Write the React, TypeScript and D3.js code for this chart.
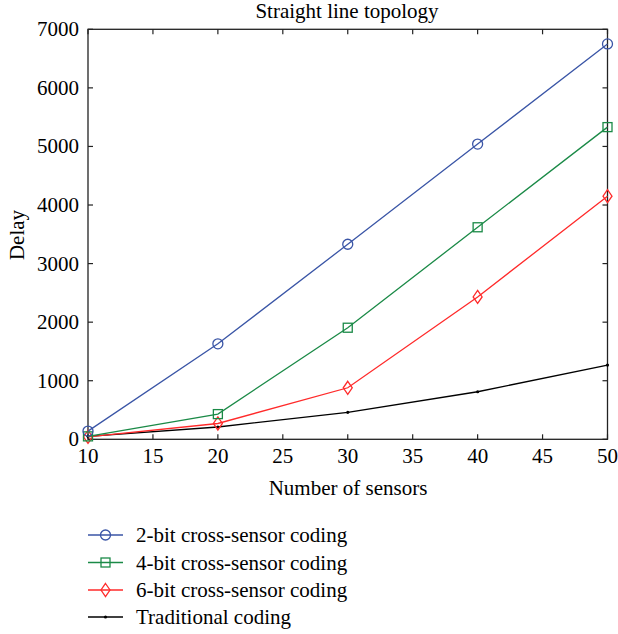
import React, { useEffect, useRef } from 'react';
import * as d3 from 'd3';

// Data
const sensors = [10, 20, 30, 40, 50];
const twoBit = [140, 1630, 3330, 5040, 6750];
const fourBit = [50, 430, 1905, 3620, 5330];
const sixBit = [40, 270, 880, 2430, 4150];
const traditional = [50, 210, 460, 812, 1268];
const seriesNames = [
  '2-bit cross-sensor coding',
  '4-bit cross-sensor coding',
  '6-bit cross-sensor coding',
  'Traditional coding',
];
const xTicks = [10, 15, 20, 25, 30, 35, 40, 45, 50];
const yTicks = [0, 1000, 2000, 3000, 4000, 5000, 6000, 7000];

const FONT = '"Liberation Serif", "Times New Roman", serif';

const App = () => {
  const ref = useRef<SVGSVGElement | null>(null);

  useEffect(() => {
    const svg = d3.select(ref.current);
    svg.selectAll('*').remove();

    const left = 88, right = 607.5, top = 29.3, bottom = 439.3;

    const x = d3.scaleLinear().domain([10, 50]).range([left, right]);
    const y = d3.scaleLinear().domain([0, 7000]).range([bottom, top]);

    const series = [
      { name: seriesNames[0], values: twoBit, color: '#3a55a6', marker: 'circle' },
      { name: seriesNames[1], values: fourBit, color: '#1b8a47', marker: 'square' },
      { name: seriesNames[2], values: sixBit, color: '#ff2a2a', marker: 'diamond' },
      { name: seriesNames[3], values: traditional, color: '#000000', marker: 'dot' },
    ];

    // Title
    svg.append('text')
      .attr('x', 347)
      .attr('y', 18)
      .attr('text-anchor', 'middle')
      .style('font-family', FONT)
      .style('font-size', '21px')
      .text('Straight line topology');

    // Frame
    svg.append('rect')
      .attr('x', left).attr('y', top)
      .attr('width', right - left).attr('height', bottom - top)
      .attr('fill', 'none').attr('stroke', '#222').attr('stroke-width', 1.3);

    // Axes with inward ticks (mirrored on top and right)
    const tickLen = 5;
    const axisG = svg.append('g').attr('stroke', '#222').attr('stroke-width', 1.2);
    xTicks.forEach(t => {
      axisG.append('line').attr('x1', x(t)).attr('x2', x(t)).attr('y1', bottom).attr('y2', bottom - tickLen);
      axisG.append('line').attr('x1', x(t)).attr('x2', x(t)).attr('y1', top).attr('y2', top + tickLen);
    });
    yTicks.forEach(t => {
      axisG.append('line').attr('x1', left).attr('x2', left + tickLen).attr('y1', y(t)).attr('y2', y(t));
      axisG.append('line').attr('x1', right).attr('x2', right - tickLen).attr('y1', y(t)).attr('y2', y(t));
    });

    svg.append('g').selectAll('text').data(xTicks).enter().append('text')
      .attr('x', d => x(d)).attr('y', bottom + 24)
      .attr('text-anchor', 'middle')
      .style('font-family', FONT).style('font-size', '21px')
      .text(d => d);

    svg.append('g').selectAll('text').data(yTicks).enter().append('text')
      .attr('x', left - 9).attr('y', d => y(d) + 7)
      .attr('text-anchor', 'end')
      .style('font-family', FONT).style('font-size', '21px')
      .text(d => d);

    // Axis titles
    svg.append('text')
      .attr('x', 348).attr('y', 495)
      .attr('text-anchor', 'middle')
      .style('font-family', FONT).style('font-size', '21px')
      .text('Number of sensors');
    svg.append('text')
      .attr('transform', 'translate(24,235) rotate(-90)')
      .attr('text-anchor', 'middle')
      .style('font-family', FONT).style('font-size', '21px')
      .text('Delay');

    const drawMarker = (g: any, kind: string, cx: number, cy: number, color: string) => {
      if (kind === 'circle') {
        g.append('circle').attr('cx', cx).attr('cy', cy).attr('r', 5)
          .attr('fill', 'none').attr('stroke', color).attr('stroke-width', 1.3);
      } else if (kind === 'square') {
        g.append('rect').attr('x', cx - 4.5).attr('y', cy - 4.5).attr('width', 9).attr('height', 9)
          .attr('fill', 'none').attr('stroke', color).attr('stroke-width', 1.3);
      } else if (kind === 'diamond') {
        g.append('path')
          .attr('d', `M${cx},${cy - 6.5}L${cx + 4.5},${cy}L${cx},${cy + 6.5}L${cx - 4.5},${cy}Z`)
          .attr('fill', 'none').attr('stroke', color).attr('stroke-width', 1.3);
      } else {
        g.append('circle').attr('cx', cx).attr('cy', cy).attr('r', 1.6).attr('fill', color);
      }
    };

    const line = d3.line<number>()
      .x((_, i) => x(sensors[i]))
      .y(d => y(d));

    // Draw lines (reverse so blue is on top)
    [...series].reverse().forEach(s => {
      const g = svg.append('g');
      g.append('path')
        .datum(s.values)
        .attr('fill', 'none')
        .attr('stroke', s.color)
        .attr('stroke-width', 1.3)
        .attr('d', line);
      s.values.forEach((v, i) => drawMarker(g, s.marker, x(sensors[i]), y(v), s.color));
    });

    // Legend
    const legendY = [535, 562.5, 590, 617];
    series.forEach((s, i) => {
      const g = svg.append('g');
      g.append('line')
        .attr('x1', 88).attr('x2', 123)
        .attr('y1', legendY[i]).attr('y2', legendY[i])
        .attr('stroke', s.color).attr('stroke-width', 1.3);
      drawMarker(g, s.marker, 105.5, legendY[i], s.color);
      g.append('text')
        .attr('x', 136).attr('y', legendY[i] + 7)
        .style('font-family', FONT).style('font-size', '21px')
        .text(s.name);
    });
  }, []);

  return (
    <svg ref={ref} width={618} height={634}
      style={{ position: 'absolute', left: 0, top: 0, background: '#fff' }} />
  );
};

export default App;
